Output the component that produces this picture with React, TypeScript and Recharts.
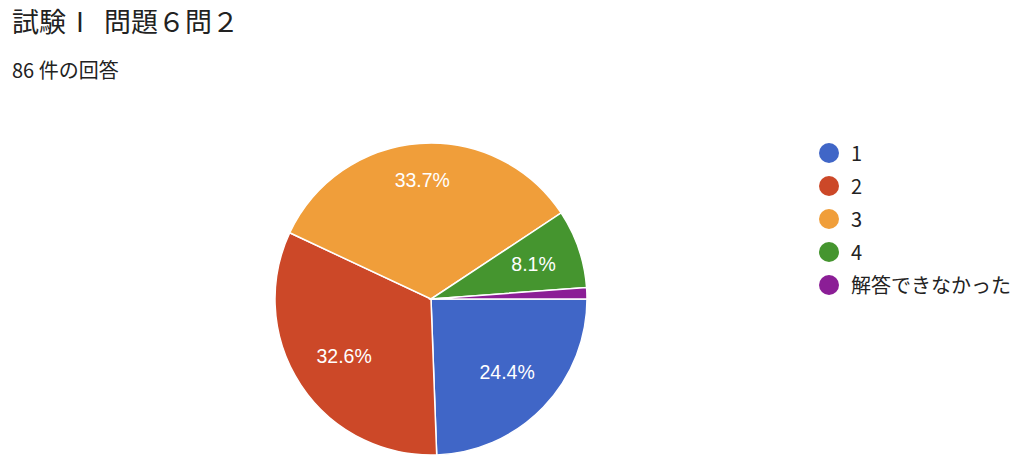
import { Cell, Legend, Pie, PieChart } from "recharts"

const answers = ["1", "2", "3", "4", "解答できなかった"]
const counts = [21, 28, 29, 7, 1]
const colors = ["#4066c7", "#cc4828", "#f09e3a", "#45952f", "#8b1e96"]

const data = answers.map((name, i) => ({ name, value: counts[i] }))
const total = counts.reduce((a, b) => a + b, 0)

const RADIAN = Math.PI / 180
const LABEL_SIZE = 19.5

// place the label so the far corner of its box sits at a fixed distance from the centre
const renderLabel = (props: any) => {
  const { cx, cy, midAngle, value } = props
  const share = value / total
  if (share < 0.05) return null
  const text = `${(share * 100).toFixed(1)}%`
  const hw = (text.length * LABEL_SIZE * 0.57) / 2
  const hh = 8
  const dx = Math.cos(-midAngle * RADIAN)
  const dy = Math.sin(-midAngle * RADIAN)
  const b = Math.abs(dx) * hw + Math.abs(dy) * hh
  const d = 132
  const r = -b + Math.sqrt(b * b - (hw * hw + hh * hh) + d * d)
  return (
    <text
      x={cx + r * dx}
      y={cy + r * dy}
      fill="#ffffff"
      textAnchor="middle"
      dominantBaseline="central"
      fontSize={LABEL_SIZE}
      fontFamily="'Liberation Sans', Arial, sans-serif"
    >
      {text}
    </text>
  )
}

const renderLegend = () => (
  <div style={{ fontFamily: "'Noto Sans CJK JP', sans-serif" }}>
    {answers.map((name, i) => (
      <div key={name} style={{ display: "flex", alignItems: "center", height: 33 }}>
        <span
          style={{
            width: 20,
            height: 20,
            borderRadius: 10,
            background: colors[i],
            display: "inline-block",
            marginRight: 12,
          }}
        />
        <span style={{ fontSize: 20, color: "#222222" }}>{name}</span>
      </div>
    ))}
  </div>
)

export default function App() {
  return (
    <div style={{ position: "relative", margin: -8, width: 1024, height: 464, background: "#ffffff", overflow: "hidden" }}>
      <div
        style={{
          position: "absolute",
          left: 12,
          top: 1,
          fontSize: 27,
          color: "#222222",
          fontFamily: "'Noto Sans CJK JP', sans-serif",
          whiteSpace: "pre",
        }}
      >
        {"試験 "}
        <span style={{ marginLeft: 4 }}>I</span>
        {" "}
        <span style={{ marginLeft: 14 }}>問題６問２</span>
      </div>
      <div
        style={{
          position: "absolute",
          left: 12,
          top: 55,
          fontSize: 20,
          color: "#222222",
          fontFamily: "'Noto Sans CJK JP', sans-serif",
          whiteSpace: "nowrap",
        }}
      >
        86 件の回答
      </div>
      <PieChart
        width={1024}
        height={464}
        margin={{ top: 0, right: 0, bottom: 0, left: 0 }}
        style={{ position: "absolute", left: 0, top: 0 }}
      >
        <Pie
          data={data}
          dataKey="value"
          nameKey="name"
          cx={431}
          cy={299}
          outerRadius={156}
          startAngle={0}
          endAngle={-360}
          stroke="#ffffff"
          strokeWidth={1.5}
          label={renderLabel}
          labelLine={false}
          isAnimationActive={false}
        >
          {data.map((d, i) => (
            <Cell key={d.name} fill={colors[i]} />
          ))}
        </Pie>
        <Legend
          content={renderLegend}
          layout="vertical"
          verticalAlign="top"
          align="right"
          wrapperStyle={{ position: "absolute", left: 819, top: 136, width: 205 }}
        />
      </PieChart>
    </div>
  )
}
